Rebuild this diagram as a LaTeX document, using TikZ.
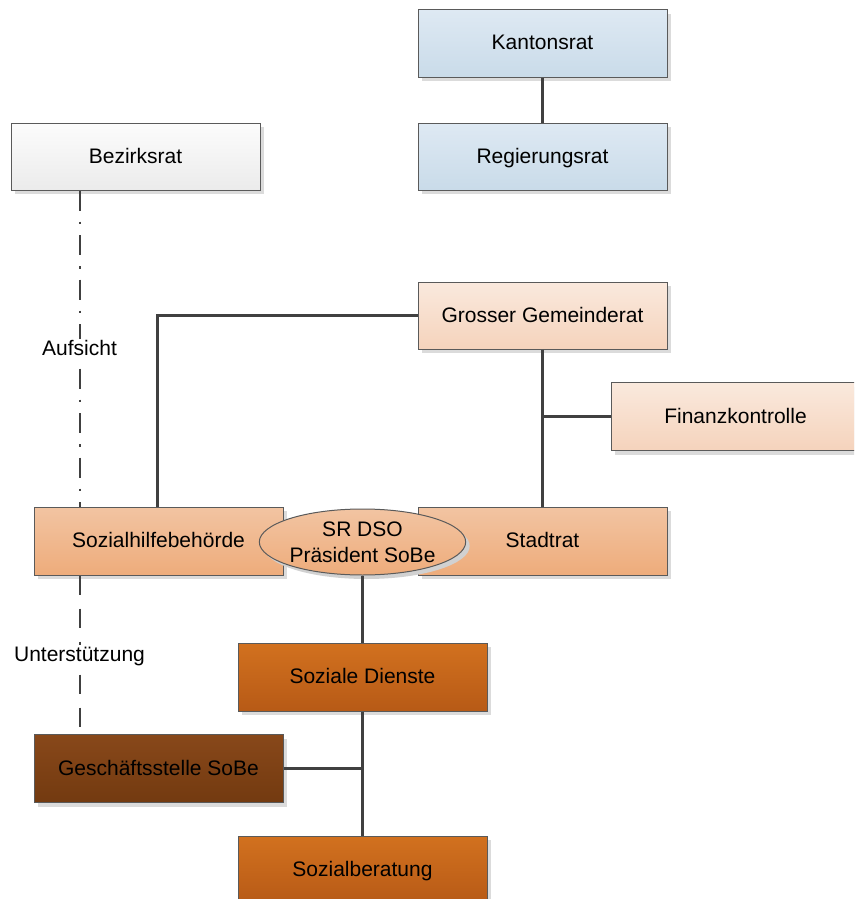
\documentclass[tikz,border=0pt]{standalone}
\usepackage{fontspec}
\setmainfont{Liberation Sans}
\usetikzlibrary{shapes.geometric,shadows}
\definecolor{bluetop}{HTML}{DEE9F3}
\definecolor{bluebot}{HTML}{C9DBE9}
\definecolor{graytop}{HTML}{FCFCFC}
\definecolor{graybot}{HTML}{EBEBEB}
\definecolor{peachtop}{HTML}{FAE9DD}
\definecolor{peachbot}{HTML}{F5D3BC}
\definecolor{aprtop}{HTML}{F2C4A2}
\definecolor{aprbot}{HTML}{EEAC7B}
\definecolor{orgtop}{HTML}{D2711F}
\definecolor{orgbot}{HTML}{B75A16}
\definecolor{brntop}{HTML}{88481A}
\definecolor{brnbot}{HTML}{733A10}
\definecolor{edge}{HTML}{5A5A5A}
\definecolor{conn}{HTML}{404040}
\tikzset{
  orgbox/.style={rectangle, draw=edge, line width=1pt, minimum width=249pt, minimum height=67pt,
    inner sep=0pt, text height=15pt, text depth=2pt,
    drop shadow={shadow xshift=4pt, shadow yshift=-4pt, fill=black!14, opacity=1}},
  bluebox/.style={orgbox, top color=bluetop, bottom color=bluebot},
  graybox/.style={orgbox, top color=graytop, bottom color=graybot},
  peachbox/.style={orgbox, top color=peachtop, bottom color=peachbot},
  aprbox/.style={orgbox, minimum height=68pt, top color=aprtop, bottom color=aprbot},
  orgfill/.style={orgbox, minimum height=68pt, top color=orgtop, bottom color=orgbot},
  brnbox/.style={orgbox, minimum height=68pt, top color=brntop, bottom color=brnbot},
  conline/.style={draw=conn, line width=2.4pt},
  aufline/.style={draw=conn, line width=2pt, dash pattern=on 20pt off 11pt on 2.5pt off 11pt},
  untline/.style={draw=conn, line width=2pt, dash pattern=on 19pt off 14pt},
  lbl/.style={fill=white, inner sep=1pt, text height=15pt, text depth=2pt}
}
\begin{document}
\begin{tikzpicture}[x=1pt, y=-1pt, font=\fontsize{21}{26}\selectfont]
\useasboundingbox (0,0) rectangle (854,899);
\clip (0,0) rectangle (854,899);
\fill[white] (0,0) rectangle (854,899);

\coordinate (ax) at (79.5,0);
\coordinate (gx) at (157.5,0);

\node[bluebox] (kanton) at (542.5,43.5) {Kantonsrat};
\node[bluebox] (regier) at (542.5,156.5) {Regierungsrat};
\node[graybox] (bezirk) at (135.5,156.5) {Bezirksrat};
\node[peachbox] (gg) at (542.5,315.5) {Grosser Gemeinderat};
\node[peachbox, minimum height=68pt] (finanz) at (735.5,416.5) {Finanzkontrolle};
\node[aprbox] (sozhilfe) at (158.5,541) {Sozialhilfebehörde};
\node[aprbox] (stadt) at (542.5,541) {Stadtrat};
\node[orgfill] (sd) at (362.5,677) {Soziale Dienste};
\node[brnbox] (gs) at (158.5,768.5) {Geschäftsstelle SoBe};
\node[orgfill] (sb) at (362.5,870) {Sozialberatung};

\node[ellipse, draw=edge, line width=1pt, minimum width=204pt, minimum height=66pt, inner sep=0pt,
  top color=aprtop, bottom color=aprbot, align=center,
  drop shadow={shadow xshift=4pt, shadow yshift=-4pt, fill=black!18, opacity=1}]
  (sr) at (362.5,542) {SR DSO\\Präsident SoBe};

\draw[conline] (kanton.south) -- (regier.north);
\draw[conline] (gg.west) -| (sozhilfe.north -| gx);
\draw[conline] (gg.south) -- (stadt.north);
\coordinate (fj) at (gg.south |- finanz.west);
\draw[conline] (fj) -- (finanz.west);
\draw[conline] (sr.south) -- (sd.north);
\draw[conline] (sd.south) -- (sb.north);
\coordinate (gj) at (sd.south |- gs.east);
\draw[conline] (gj) -- (gs.east);

\draw[aufline] (bezirk.south -| ax) -- (sozhilfe.north -| ax)
  node[lbl, midway] (auf) {Aufsicht};
\draw[untline] (sozhilfe.south -| ax) -- (gs.north -| ax)
  node[lbl, midway] (unt) {Unterstützung};
\end{tikzpicture}
\end{document}
